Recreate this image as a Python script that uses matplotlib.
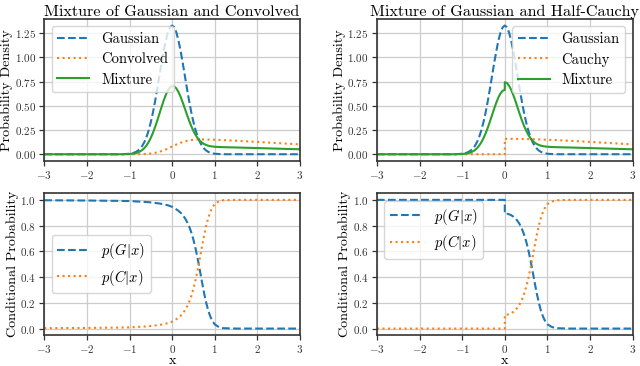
import matplotlib
matplotlib.use("Agg")
import matplotlib.pyplot as plt

plt.rcParams['font.family'] = 'serif'
plt.rcParams['font.serif'] = ['cmr10']
plt.rcParams['mathtext.fontset'] = 'cm'
plt.rcParams['axes.formatter.use_mathtext'] = True
plt.rcParams['axes.unicode_minus'] = True

# x positions (dense around the peak)
x_left = [-3.0, -2.5, -2.0, -1.5, -1.2, -1.1,
          -1.0, -0.95, -0.9, -0.85, -0.8, -0.75, -0.7, -0.65, -0.6, -0.55,
          -0.5, -0.45, -0.4, -0.35, -0.3, -0.25, -0.2, -0.15, -0.1, -0.05,
          0.0, 0.05, 0.1, 0.15, 0.2, 0.25, 0.3, 0.35, 0.4, 0.45,
          0.5, 0.55, 0.6, 0.65, 0.7, 0.75, 0.8, 0.85, 0.9, 0.95, 1.0,
          1.1, 1.2, 1.5, 1.75, 2.0, 2.25, 2.5, 2.75, 3.0]

# right panels: x = 0 appears twice (jump of the half-Cauchy)
x_right = [-3.0, -2.5, -2.0, -1.5, -1.2, -1.1,
           -1.0, -0.95, -0.9, -0.85, -0.8, -0.75, -0.7, -0.65, -0.6, -0.55,
           -0.5, -0.45, -0.4, -0.35, -0.3, -0.25, -0.2, -0.15, -0.1, -0.05,
           0.0, 0.0, 0.05, 0.1, 0.15, 0.2, 0.25, 0.3, 0.35, 0.4, 0.45,
           0.5, 0.55, 0.6, 0.65, 0.7, 0.75, 0.8, 0.85, 0.9, 0.95, 1.0,
           1.1, 1.2, 1.5, 1.75, 2.0, 2.25, 2.5, 2.75, 3.0]

gauss_left = [0, 0, 0, 0, 0, 0.002,
              0.005, 0.009, 0.015, 0.024, 0.038, 0.058, 0.087, 0.127, 0.180, 0.248,
              0.332, 0.432, 0.547, 0.673, 0.807, 0.940, 1.065, 1.174, 1.258, 1.312,
              1.330, 1.312, 1.258, 1.174, 1.065, 0.940, 0.807, 0.673, 0.547, 0.432,
              0.332, 0.248, 0.180, 0.127, 0.087, 0.058, 0.038, 0.024, 0.015, 0.009, 0.005,
              0.002, 0, 0, 0, 0, 0, 0, 0, 0]

convolved = [0, 0, 0, 0, 0, 0,
             0.0000, 0.0001, 0.0002, 0.0004, 0.0006, 0.0010, 0.0016, 0.0024, 0.0036, 0.0053,
             0.0076, 0.0106, 0.0145, 0.0194, 0.0253, 0.0322, 0.0402, 0.0491, 0.0588, 0.0690,
             0.0796, 0.0901, 0.1003, 0.1100, 0.1189, 0.1263, 0.1334, 0.1388, 0.1432, 0.1466,
             0.1492, 0.1510, 0.1521, 0.1526, 0.1529, 0.1528, 0.1524, 0.1518, 0.1513, 0.1505, 0.1498,
             0.1478, 0.1459, 0.1396, 0.1336, 0.1273, 0.1209, 0.1145, 0.1081, 0.1019]

mixture_left = [0, 0, 0, 0, 0, 0.001,
                0.0025, 0.0046, 0.0076, 0.0122, 0.0193, 0.0295, 0.0443, 0.0647, 0.0918, 0.1267,
                0.1698, 0.2213, 0.2808, 0.3462, 0.4162, 0.4861, 0.5526, 0.6116, 0.6584, 0.6905,
                0.7048, 0.7011, 0.6792, 0.6420, 0.5920, 0.5332, 0.4702, 0.4059, 0.3451, 0.2893,
                0.2406, 0.1995, 0.1661, 0.1398, 0.1200, 0.1054, 0.0952, 0.0879, 0.0832, 0.0798, 0.0774,
                0.0749, 0.0730, 0.0698, 0.0668, 0.0637, 0.0605, 0.0573, 0.0541, 0.0510]

pg_left = [0.997, 0.996, 0.995, 0.993, 0.992, 0.991,
           0.991, 0.990, 0.989, 0.988, 0.987, 0.986, 0.985, 0.984, 0.983, 0.982,
           0.980, 0.978, 0.976, 0.974, 0.972, 0.969, 0.966, 0.962, 0.958, 0.952,
           0.946, 0.936, 0.926, 0.914, 0.900, 0.882, 0.858, 0.829, 0.793, 0.747,
           0.690, 0.622, 0.542, 0.454, 0.363, 0.275, 0.200, 0.137, 0.090, 0.056, 0.033,
           0.011, 0.003, 0, 0, 0, 0, 0, 0, 0]

pc_left = [0.003, 0.004, 0.005, 0.007, 0.008, 0.009,
           0.009, 0.010, 0.011, 0.012, 0.013, 0.014, 0.015, 0.016, 0.017, 0.018,
           0.020, 0.022, 0.024, 0.026, 0.028, 0.031, 0.034, 0.038, 0.042, 0.048,
           0.054, 0.064, 0.074, 0.086, 0.100, 0.118, 0.142, 0.171, 0.207, 0.253,
           0.310, 0.378, 0.458, 0.546, 0.637, 0.725, 0.800, 0.863, 0.910, 0.944, 0.967,
           0.989, 0.997, 1, 1, 1, 1, 1, 1, 1]

gauss_right = [0, 0, 0, 0, 0, 0.002,
               0.005, 0.009, 0.015, 0.024, 0.038, 0.058, 0.087, 0.127, 0.180, 0.248,
               0.332, 0.432, 0.547, 0.673, 0.807, 0.940, 1.065, 1.174, 1.258, 1.312,
               1.330, 1.330, 1.312, 1.258, 1.174, 1.065, 0.940, 0.807, 0.673, 0.547, 0.432,
               0.332, 0.248, 0.180, 0.127, 0.087, 0.058, 0.038, 0.024, 0.015, 0.009, 0.005,
               0.002, 0, 0, 0, 0, 0, 0, 0, 0]

cauchy = [0, 0, 0, 0, 0, 0,
          0, 0, 0, 0, 0, 0, 0, 0, 0, 0,
          0, 0, 0, 0, 0, 0, 0, 0, 0, 0,
          0, 0.1592, 0.1591, 0.1591, 0.1589, 0.1588, 0.1585, 0.1583, 0.1579, 0.1576, 0.1572,
          0.1567, 0.1562, 0.1556, 0.1551, 0.1544, 0.1537, 0.1530, 0.1523, 0.1515, 0.1507, 0.1498,
          0.1480, 0.1460, 0.1395, 0.1336, 0.1273, 0.1209, 0.1144, 0.1081, 0.1019]

mixture_right = [0, 0, 0, 0, 0, 0.001,
                 0.0025, 0.0045, 0.0075, 0.012, 0.019, 0.029, 0.0435, 0.0635, 0.090, 0.124,
                 0.166, 0.216, 0.2735, 0.3365, 0.4035, 0.470, 0.5325, 0.587, 0.629, 0.656,
                 0.665, 0.7445, 0.7356, 0.7086, 0.6665, 0.6119, 0.5493, 0.4827, 0.4155, 0.3523, 0.2946,
                 0.2444, 0.2021, 0.1678, 0.1411, 0.1207, 0.1059, 0.0955, 0.0882, 0.0833, 0.0799, 0.0774,
                 0.0750, 0.0730, 0.0698, 0.0668, 0.0637, 0.0605, 0.0572, 0.0541, 0.0510]

pg_right = [1, 1, 1, 1, 1, 1,
            1, 1, 1, 1, 1, 1, 1, 1, 1, 1,
            1, 1, 1, 1, 1, 1, 1, 1, 1, 1,
            1, 0.893, 0.892, 0.888, 0.881, 0.870, 0.856, 0.836, 0.810, 0.776, 0.733,
            0.679, 0.614, 0.536, 0.450, 0.360, 0.274, 0.199, 0.136, 0.090, 0.056, 0.033,
            0.013, 0.003, 0, 0, 0, 0, 0, 0, 0]

pc_right = [0, 0, 0, 0, 0, 0,
            0, 0, 0, 0, 0, 0, 0, 0, 0, 0,
            0, 0, 0, 0, 0, 0, 0, 0, 0, 0,
            0, 0.107, 0.108, 0.112, 0.119, 0.130, 0.144, 0.164, 0.190, 0.224, 0.267,
            0.321, 0.386, 0.464, 0.550, 0.640, 0.726, 0.801, 0.864, 0.910, 0.944, 0.967,
            0.987, 0.997, 1, 1, 1, 1, 1, 1, 1]

blue, orange, green = '#1f77b4', '#ff7f0e', '#2ca02c'

fig, axes = plt.subplots(2, 2, figsize=(6.4, 3.66), dpi=100)
fig.subplots_adjust(left=0.0692, right=0.9885, top=0.9478, bottom=0.0847,
                    wspace=0.301, hspace=0.2315)


def style(ax):
    ax.set_xlim(-3, 3)
    ax.set_xticks([-3, -2, -1, 0, 1, 2, 3])
    ax.grid(True, color='#cccccc', linewidth=0.9)
    ax.set_axisbelow(True)
    for s in ax.spines.values():
        s.set_color('#333333')
        s.set_linewidth(1.2)
    ax.tick_params(labelsize=8, colors='#333333', length=3.5, width=0.9, pad=2.5)


leg_kw = dict(fontsize=10.5, handlelength=2.2, labelspacing=0.45)

ax = axes[0, 0]
ax.plot(x_left, gauss_left, '--', color=blue, lw=1.5, label='Gaussian')
ax.plot(x_left, convolved, ':', color=orange, lw=1.5, label='Convolved')
ax.plot(x_left, mixture_left, '-', color=green, lw=1.5, label='Mixture')
style(ax)
ax.set_yticks([0, 0.25, 0.5, 0.75, 1.0, 1.25])
ax.set_title('Mixture of Gaussian and Convolved', fontsize=11.7, pad=2)
ax.set_ylabel('Probability Density', fontsize=10.2, labelpad=1)
ax.legend(loc='upper left', **leg_kw)

ax = axes[0, 1]
ax.plot(x_right, gauss_right, '--', color=blue, lw=1.5, label='Gaussian')
ax.plot(x_right, cauchy, ':', color=orange, lw=1.5, label='Cauchy')
ax.plot(x_right, mixture_right, '-', color=green, lw=1.5, label='Mixture')
style(ax)
ax.set_yticks([0, 0.25, 0.5, 0.75, 1.0, 1.25])
ax.set_title('Mixture of Gaussian and Half-Cauchy', fontsize=11.7, pad=2)
ax.set_ylabel('Probability Density', fontsize=10.2, labelpad=1)
ax.legend(loc='upper right', **leg_kw)

ax = axes[1, 0]
ax.plot(x_left, pg_left, '--', color=blue, lw=1.5, label=r'$p(G|x)$')
ax.plot(x_left, pc_left, ':', color=orange, lw=1.5, label=r'$p(C|x)$')
style(ax)
ax.set_ylabel('Conditional Probability', fontsize=10.2, labelpad=1)
ax.set_xlabel('x', fontsize=10.2, labelpad=0)
ax.legend(loc='center left', **leg_kw)

ax = axes[1, 1]
ax.plot(x_right, pg_right, '--', color=blue, lw=1.5, label=r'$p(G|x)$')
ax.plot(x_right, pc_right, ':', color=orange, lw=1.5, label=r'$p(C|x)$')
style(ax)
ax.set_ylabel('Conditional Probability', fontsize=10.2, labelpad=1)
ax.set_xlabel('x', fontsize=10.2, labelpad=0)
ax.legend(loc='upper left', **leg_kw)

fig.savefig('out.png', dpi=100)
